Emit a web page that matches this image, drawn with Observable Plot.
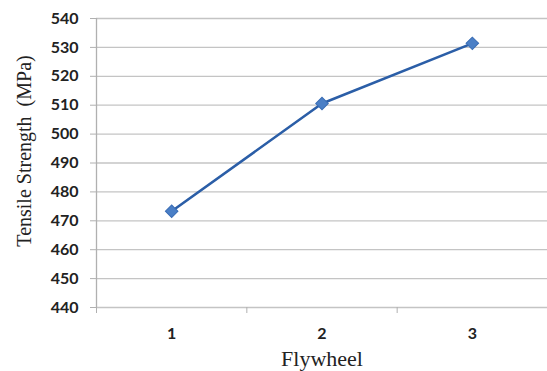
<!DOCTYPE html>
<html>
<head>
<meta charset="utf-8">
<script src="https://cdn.jsdelivr.net/npm/d3@7"></script>
<script src="https://cdn.jsdelivr.net/npm/@observablehq/plot@0.6"></script>
<style>
  html, body { margin: 0; padding: 0; background: #fff; }
  #chart svg { display: block; }
</style>
</head>
<body>
<div id="chart"></div>
<script>
const flywheel = [1, 2, 3];
const strength = [473.3, 510.6, 531.4];
const yTicks = [440, 450, 460, 470, 480, 490, 500, 510, 520, 530, 540];
const xBounds = [0.5, 1.5, 2.5, 3.5];

const data = flywheel.map((f, i) => ({ f, v: strength[i] }));

const chart = Plot.plot({
  width: 547,
  height: 371,
  marginLeft: 96,
  marginRight: 0,
  marginTop: 18,
  marginBottom: 64,
  style: { background: "#fff", overflow: "visible" },
  x: { type: "linear", domain: [0.5, 3.5] },
  y: { type: "linear", domain: [440, 540] },
  marks: [
    Plot.ruleY(yTicks, { y: d => d, stroke: "#c4c4c4", strokeWidth: 1.3 }),
    Plot.ruleX([0.5], { x: d => d, stroke: "#b0b0b0", strokeWidth: 1.3 }),
    Plot.axisY({
      ticks: yTicks, tickSize: 6, tickPadding: 12, stroke: "#b0b0b0",
      fill: "#222", fontSize: 16, fontWeight: "bold", fontFamily: "Lato, 'Open Sans', sans-serif",
      label: null
    }),
    Plot.axisX({
      ticks: flywheel, tickSize: 0, tickPadding: 20, tickFormat: d => String(d),
      fill: "#222", fontSize: 16, fontWeight: "bold", fontFamily: "Lato, 'Open Sans', sans-serif",
      label: null
    }),
    Plot.axisX({
      ticks: xBounds, tickSize: 6, tickFormat: () => "", stroke: "#b0b0b0", label: null
    }),
    Plot.line(data, { x: "f", y: "v", stroke: "#2b5ea7", strokeWidth: 2.6 }),
    Plot.dot(data, { x: "f", y: "v", symbol: "square", rotate: 45, r: 5, fill: "#4a7fc6", stroke: "#3a6db5", strokeWidth: 1 }),
    Plot.text(["Flywheel"], { frameAnchor: "bottom", lineAnchor: "middle", dy: 51, fontSize: 22, fontFamily: "'Liberation Serif', 'DejaVu Serif', serif", fill: "#222" }),
    Plot.text(["Tensile Strength  (MPa)"], { frameAnchor: "left", textAnchor: "middle", dx: -72, dy: -12, rotate: -90, fontSize: 20, fontFamily: "'Liberation Serif', 'DejaVu Serif', serif", fill: "#222" })
  ]
});
document.getElementById("chart").appendChild(chart);
</script>
</body>
</html>
